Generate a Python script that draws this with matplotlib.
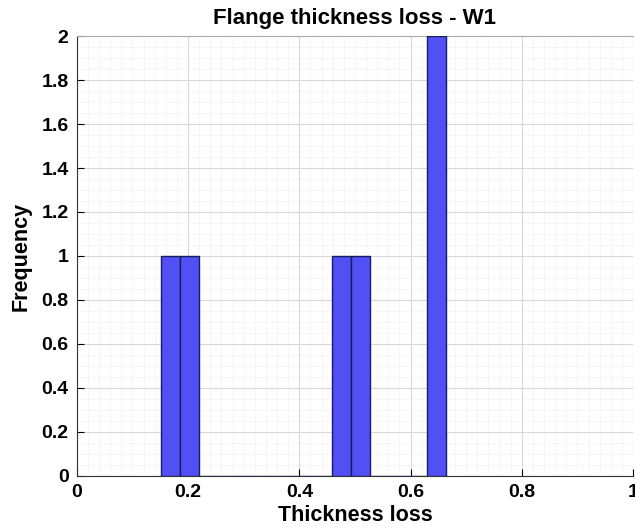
import matplotlib
matplotlib.use("Agg")
import matplotlib.pyplot as plt
from matplotlib.ticker import MultipleLocator

# Pérdida de espesor medida en el ala (W1)
thickness_loss = [0.151, 0.195, 0.475, 0.505, 0.645, 0.664]
n_bins = 15
x_ticks = [0, 0.2, 0.4, 0.6, 0.8, 1]
y_ticks = [0, 0.2, 0.4, 0.6, 0.8, 1, 1.2, 1.4, 1.6, 1.8, 2]

plt.rcParams['font.family'] = ['Liberation Sans', 'DejaVu Sans']
plt.rcParams['font.weight'] = 'bold'

fig = plt.figure(figsize=(6.35, 5.3), dpi=100)
ax = fig.add_axes([0.121, 0.102, 0.876, 0.830])

ax.hist(thickness_loss, bins=n_bins, color='#5050f5', edgecolor='#1a1a60',
        linewidth=1.0, zorder=3)

ax.set_xlim(0, 1)
ax.set_ylim(0, 2)
ax.set_xticks(x_ticks)
ax.set_xticklabels([f"{t:g}" for t in x_ticks])
ax.set_yticks(y_ticks)
ax.set_yticklabels([f"{t:g}" for t in y_ticks])
ax.xaxis.set_minor_locator(MultipleLocator(0.02))
ax.yaxis.set_minor_locator(MultipleLocator(0.05))

ax.grid(which='major', color='#d8d8d8', linewidth=0.8, zorder=0)
ax.grid(which='minor', color='#e4e4e4', linewidth=0.6, linestyle=':', zorder=0)
ax.set_axisbelow(True)

ax.tick_params(which='major', direction='in', length=5, labelsize=14, pad=6)
ax.tick_params(which='minor', length=0)
ax.spines['right'].set_visible(False)
ax.spines['top'].set_color('#aaaaaa')
ax.spines['left'].set_color('#333333')
ax.spines['bottom'].set_color('#333333')

ax.set_title("Flange thickness loss - W1", fontsize=16, fontweight='bold', pad=9)
ax.set_xlabel("Thickness loss", fontsize=15.5, fontweight='bold', labelpad=3)
ax.set_ylabel("Frequency", fontsize=15.5, fontweight='bold', labelpad=7)

fig.savefig("out.png", dpi=100)
